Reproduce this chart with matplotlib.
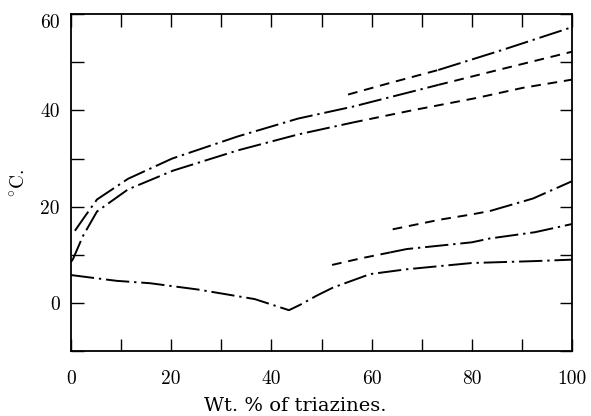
import matplotlib
matplotlib.use("Agg")
import matplotlib.pyplot as plt

plt.rcParams['font.family'] = ['cmr10', 'DejaVu Serif']
plt.rcParams['mathtext.fontset'] = 'cm'
plt.rcParams['axes.unicode_minus'] = False
plt.rcParams['axes.formatter.use_mathtext'] = True

# ---- data ----
# upper left branch (dash-dot), continued dashed at high wt.%
up_dd_x = [0.8, 2.8, 5.2, 11.4, 20.2, 33.3, 45.3, 56.3, 73.3]
up_dd_y = [15.0, 18.0, 21.5, 25.8, 30.0, 34.6, 38.3, 40.8, 45.3]
up_da_x = [73.3, 86.0, 100.0]
up_da_y = [45.3, 48.6, 52.2]

# lower left branch
lo_dd_x = [0.0, 0.4, 2.4, 5.2, 11.4, 20.4, 33.3, 45.3, 56.3]
lo_dd_y = [8.5, 9.1, 13.9, 19.0, 23.6, 27.5, 31.7, 35.0, 37.5]
lo_da_x = [56.3, 68.0, 81.0, 90.2, 100.0]
lo_da_y = [37.5, 40.0, 42.6, 44.7, 46.4]

# top branch starting at ~55 %
top_da_x = [55.3, 64.0, 73.3]
top_da_y = [43.3, 45.8, 48.4]
top_dd_x = [73.3, 86.2, 100.0]
top_dd_y = [48.4, 52.6, 57.3]

# right branch at ~15-25 °C
r1_da_x = [64.2, 73.6, 80.0, 83.6]
r1_da_y = [15.3, 17.3, 18.4, 19.1]
r1_dd_x = [83.6, 92.2, 100.0]
r1_dd_y = [19.1, 21.7, 25.3]

# right branch at ~8-16 °C
r2_da_x = [52.1, 58.0, 63.7]
r2_da_y = [7.9, 9.3, 10.5]
r2_dd_x = [63.7, 67.0, 80.0, 83.6, 92.6, 100.0]
r2_dd_y = [10.5, 11.2, 12.6, 13.4, 14.7, 16.4]

# bottom freezing curve with eutectic
bot_x = [0.0, 9.1, 15.8, 25.3, 36.7, 43.5, 45.7, 49.0, 52.3, 59.7, 67.0, 80.0, 92.6, 100.0]
bot_y = [5.8, 4.6, 4.1, 2.8, 0.8, -1.5, -0.4, 1.5, 3.2, 6.0, 7.0, 8.3, 8.7, 9.0]

xticks_major = [0, 20, 40, 60, 80, 100]
yticks_major = [0, 20, 40, 60]

# ---- plot ----
fig = plt.figure(figsize=(5.91, 4.16), dpi=100)
ax = fig.add_axes([0.120, 0.156, 0.848, 0.810])

dd = dict(color='black', lw=1.4, linestyle=(0, (12, 2.5, 1.2, 2.5)))
da = dict(color='black', lw=1.4, linestyle=(0, (5.0, 3.5)))

ax.plot(up_dd_x, up_dd_y, **dd)
ax.plot(up_da_x, up_da_y, **da)
ax.plot(lo_dd_x, lo_dd_y, **dd)
ax.plot(lo_da_x, lo_da_y, **da)
ax.plot(top_da_x, top_da_y, **da)
ax.plot(top_dd_x, top_dd_y, **dd)
ax.plot(r1_da_x, r1_da_y, **da)
ax.plot(r1_dd_x, r1_dd_y, **dd)
ax.plot(r2_da_x, r2_da_y, **da)
ax.plot(r2_dd_x, r2_dd_y, **dd)
ax.plot(bot_x, bot_y, **dd)

ax.set_xlim(0, 100)
ax.set_ylim(-10, 60)

ax.set_xticks(list(range(0, 101, 10)))
ax.set_xticklabels([str(v) if v in xticks_major else '' for v in range(0, 101, 10)])
ax.set_yticks(list(range(-10, 61, 10)))
ax.set_yticklabels([str(v) if v in yticks_major else '' for v in range(-10, 61, 10)])

ax.tick_params(direction='in', length=9, width=1.0, top=True, right=True,
               labelsize=14, pad=8)
ax.tick_params(axis='x', pad=13.5)
ax.get_yticklabels()[-1].set_va('top')
for s in ax.spines.values():
    s.set_linewidth(1.3)

ax.set_xlabel('Wt. % of triazines.', fontsize=14, family=['DejaVu Serif'])
ax.xaxis.set_label_coords(0.447, -0.135)
ax.set_ylabel(r'$^{\circ}$C.', fontsize=14, labelpad=8)

fig.savefig('out.png', dpi=100)
